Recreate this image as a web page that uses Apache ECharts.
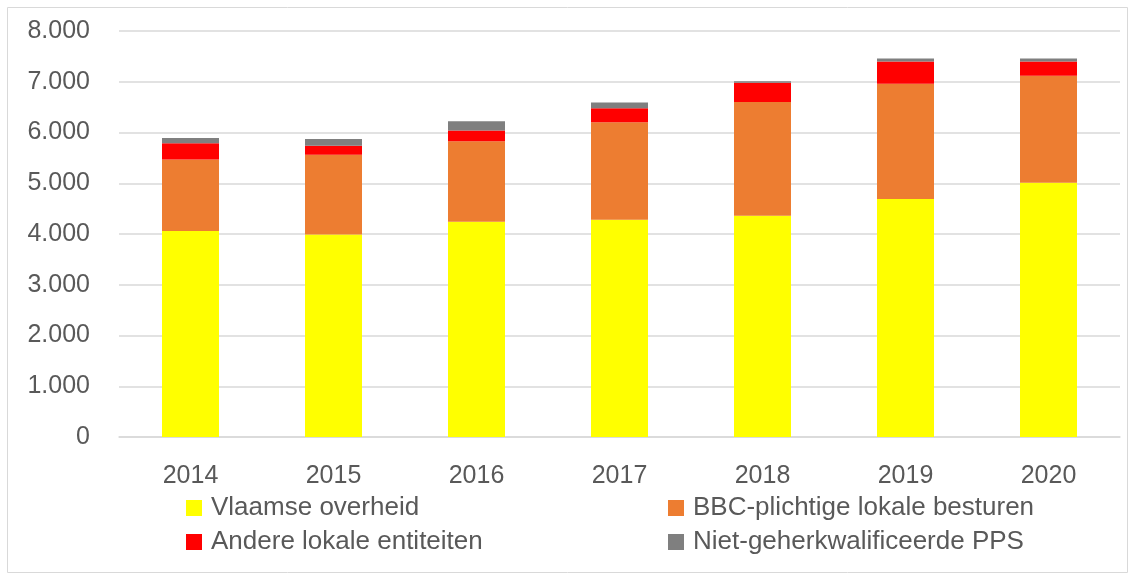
<!DOCTYPE html>
<html><head><meta charset="utf-8">
<script src="https://cdn.jsdelivr.net/npm/echarts@6/dist/echarts.min.js"></script>
<style>html,body{margin:0;padding:0;background:#fff}#c{width:1135px;height:580px}</style>
</head><body><div id="c"></div>
<script>
const categories = ['2014','2015','2016','2017','2018','2019','2020'];
const seriesNames = ['Vlaamse overheid','BBC-plichtige lokale besturen','Andere lokale entiteiten','Niet-geherkwalificeerde PPS'];
const vlaamseOverheid = [4060, 3990, 4240, 4280, 4360, 4690, 5010];
const bbcLokaleBesturen = [1410, 1570, 1590, 1920, 2240, 2270, 2110];
const andereLokaleEntiteiten = [320, 180, 210, 280, 380, 440, 280];
const nietGeherkwalificeerdePPS = [100, 130, 180, 110, 30, 60, 60];
const colors = ['#ffff00','#ed7d31','#ff0000','#7f7f7f'];
const values = [vlaamseOverheid, bbcLokaleBesturen, andereLokaleEntiteiten, nietGeherkwalificeerdePPS];

const font = "'Liberation Sans', Arial, sans-serif";
const chart = echarts.init(document.getElementById('c'));
const legendPos = [[186,495],[668,495],[186,529],[668,529]];
chart.setOption({
  animation:false,
  textStyle:{fontFamily:font},
  graphic:[{type:'rect',shape:{x:7.5,y:7.5,width:1120,height:565},style:{fill:'none',stroke:'#d9d9d9',lineWidth:1}}],
  legend: seriesNames.map((n,i)=>({
    data:[n], left:legendPos[i][0], top:legendPos[i][1], padding:0, icon:'rect', itemWidth:16, itemHeight:16, itemGap:10,
    textStyle:{fontSize:26,color:'#595959',fontFamily:font,padding:[0,0,0,4]}
  })),
  grid:{left:119,right:15,top:31,bottom:143},
  xAxis:{type:'category',data:categories,
    axisLine:{lineStyle:{color:'#d9d9d9',width:1.5}},axisTick:{show:false},
    axisLabel:{fontSize:25,color:'#595959',margin:27,fontFamily:font}},
  yAxis:{type:'value',min:0,max:8000,interval:1000,
    axisLine:{show:false},axisTick:{show:false},
    splitLine:{lineStyle:{color:'#d9d9d9',width:1.5}},
    axisLabel:{fontSize:25,color:'#595959',margin:29,fontFamily:font,
      formatter:v=>v===0?'0':(v/1000)+'.000'}},
  series: seriesNames.map((n,i)=>({
    name:n,type:'bar',stack:'a',data:values[i],barWidth:57,
    itemStyle:{color:colors[i]}
  }))
});
</script></body></html>
